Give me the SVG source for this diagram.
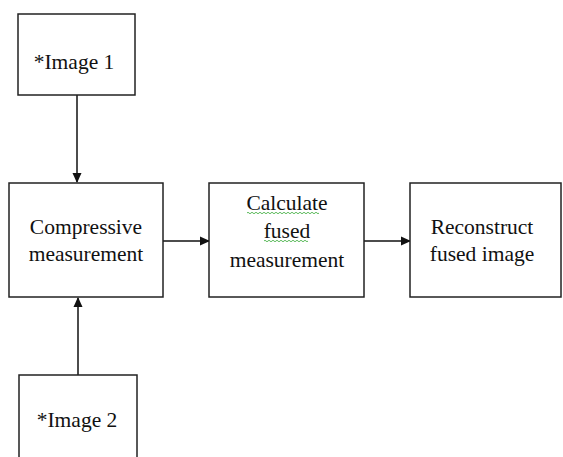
<svg xmlns="http://www.w3.org/2000/svg" width="563" height="457" viewBox="0 0 563 457">
<style>
.box{fill:#fff;stroke:#222;stroke-width:1.5}
.t{font-family:"Liberation Serif","Times New Roman",serif;font-size:21.5px;fill:#111;text-anchor:middle}
.c{stroke:#111;stroke-width:1.5;fill:none}
.sq{stroke:#3a3;stroke-width:0.8;fill:none}
</style>
<defs>
<marker id="ah" markerWidth="10" markerHeight="10" refX="9" refY="5" orient="auto" markerUnits="userSpaceOnUse">
<path d="M0,0.5 L10,5 L0,9.5 Z" fill="#111"/>
</marker>
</defs>
<rect width="563" height="457" fill="#fff"/>
<g id="connectors">
<line class="c" x1="77" y1="95" x2="77" y2="182" marker-end="url(#ah)"/>
<line class="c" x1="78" y1="375" x2="78" y2="298" marker-end="url(#ah)"/>
<line class="c" x1="163" y1="241" x2="209" y2="241" marker-end="url(#ah)"/>
<line class="c" x1="364" y1="241" x2="410" y2="241" marker-end="url(#ah)"/>
</g>
<g id="image1">
<rect class="box" x="18" y="14" width="117" height="81"/>
<text class="t" x="74" y="69">*Image 1</text>
</g>
<g id="compressive">
<rect class="box" x="9" y="183" width="154" height="114"/>
<text class="t" x="86" y="234">Compressive</text>
<text class="t" x="86" y="261">measurement</text>
</g>
<g id="calculate">
<rect class="box" x="209" y="183" width="155" height="114"/>
<text class="t" x="287" y="210">Calculate</text>
<text class="t" x="287" y="238">fused</text>
<text class="t" x="287" y="267">measurement</text>
<path class="sq" d="M247,213 q1,-1.5 2,0 t2,0 t2,0 t2,0 t2,0 t2,0 t2,0 t2,0 t2,0 t2,0 t2,0 t2,0 t2,0 t2,0 t2,0 t2,0 t2,0 t2,0 t2,0 t2,0 t2,0 t2,0 t2,0 t2,0 t2,0 t2,0 t2,0 t2,0 t2,0 t2,0 t2,0 t2,0 t2,0 t2,0 t2,0 t2,0"/>
<path class="sq" d="M264,241 q1,-1.5 2,0 t2,0 t2,0 t2,0 t2,0 t2,0 t2,0 t2,0 t2,0 t2,0 t2,0 t2,0 t2,0 t2,0 t2,0 t2,0 t2,0 t2,0 t2,0 t2,0 t2,0 t2,0"/>
</g>
<g id="reconstruct">
<rect class="box" x="410" y="183" width="151" height="114"/>
<text class="t" x="482" y="234">Reconstruct</text>
<text class="t" x="482" y="261">fused image</text>
</g>
<g id="image2">
<rect class="box" x="19" y="375" width="118" height="90"/>
<text class="t" x="77" y="427">*Image 2</text>
</g>
</svg>
